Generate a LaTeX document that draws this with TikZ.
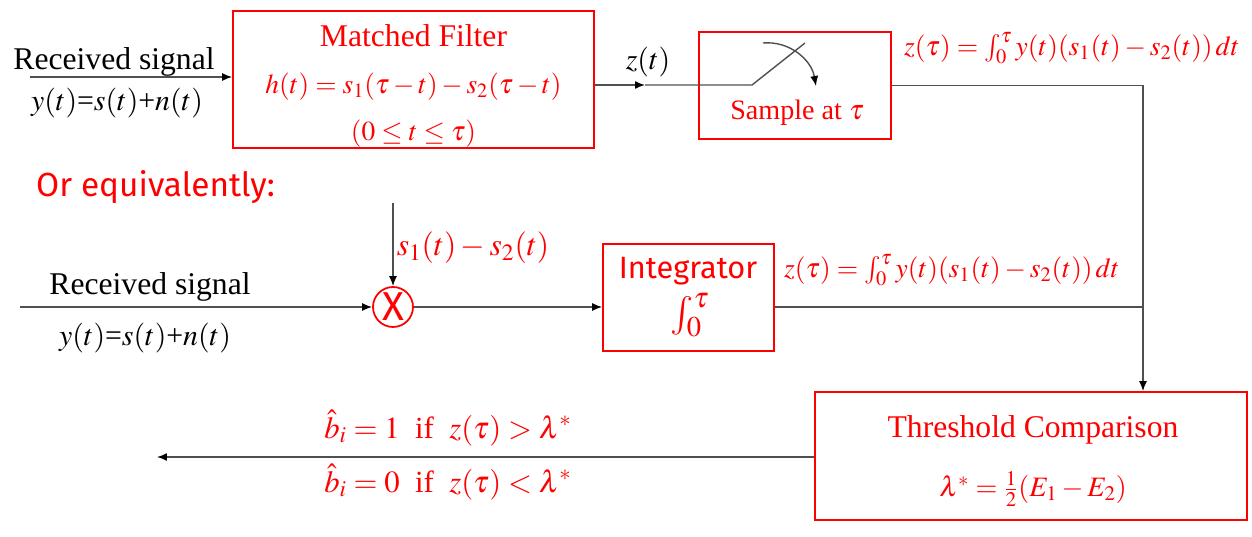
\documentclass[tikz,border=0pt]{standalone}
\usepackage{mathptmx}
\usepackage{fontspec}
\setmainfont{Liberation Serif}
\newfontfamily\comicfont{Fira Sans}
\usetikzlibrary{positioning, arrows.meta}
\definecolor{linegray}{RGB}{80,80,80}
\newcommand{\fsz}[1]{\fontsize{#1}{1.2\dimexpr #1pt\relax}\selectfont}

\begin{document}
\begin{tikzpicture}[x=0.02cm, y=-0.02cm,
    font=\fsz{18},
    myblock/.style={draw=red, line width=1pt, inner sep=0pt},
    mymult/.style={circle, draw=red, line width=1pt, text=red, minimum size=0.8cm, inner sep=0pt, font=\comicfont\fsz{23}},
    myline/.style={linegray, line width=0.8pt},
    myarrow/.style={-{Latex[length=2mm, width=1.6mm, black]}, linegray, line width=0.8pt},
    mylabel/.style={text=red, align=center},
    myformula/.style={text=red, font=\fsz{15.7}}
]
    \useasboundingbox (0,0) rectangle (1252,537);

    % Matched filter path
    \node[myblock, minimum width=7.22cm, minimum height=2.74cm] (mf) at (413.5,79.5) {};
    \node[mylabel] (mft) at (413.5,86)
        {Matched Filter\\[5pt] {\fsz{15.6}$h(t)=s_1(\tau-t)-s_2(\tau-t)$}\\[5pt] {\fsz{15.6}$(0\le t\le\tau)$}};
    \node (rs1) at (114,62) {Received signal};
    \node[font=\fsz{17}] (ys1) at (117,103) {$y(t)$=$s(t)$+$n(t)$};
    \coordinate (in1) at (30,77);
    \draw[myarrow] (in1) -- (in1 -| mf.west);

    % Sampler
    \node[myblock, minimum width=3.84cm, minimum height=2.14cm] (sp) at (795,85.5) {};
    \node[mylabel, font=\fsz{16}] (spl) at (797,113) {Sample at $\tau$};
    \coordinate (zt) at (645,85);
    \coordinate (sw0) at (752,85);
    \coordinate (sw1) at (805,43);
    \coordinate (ca) at (763,43);
    \coordinate (cb) at (816,86);
    \draw[myarrow] (mf.east |- zt) -- (zt);
    \draw[myline] (zt) -- (sw0) -- (sw1);
    \draw[myarrow] (ca) to[out=5, in=100] (cb);
    \node[font=\fsz{17}] (zl) at (648,62) {$z(t)$};
    \node[myformula] (zf1) at (1072,48) {$z(\tau)=\int_0^\tau y(t)(s_1(t)-s_2(t))\,dt$};

    % Or equivalently: correlator path
    \node[mylabel, font=\comicfont\fsz{19}, anchor=west] (oe) at (30,187) {Or equivalently:};
    \node[mymult] (mult) at (393,307) {X};
    \coordinate (mtop) at (393,203);
    \draw[myarrow] (mtop) -- (mult.north);
    \node[mylabel] (sl) at (473,248) {$s_1(t)-s_2(t)$};
    \coordinate (in2) at (20,307);
    \draw[myarrow] (in2) -- (mult.west);
    \node (rs2) at (150,287) {Received signal};
    \node[font=\fsz{17}] (ys2) at (145,338) {$y(t)$=$s(t)$+$n(t)$};

    \node[myblock, minimum width=3.42cm, minimum height=2.14cm] (int) at (688.5,297.5) {};
    \node[mylabel, inner sep=0pt, font=\comicfont\fsz{17.5}] (intt) at (688,271) {Integrator};
    \node[mylabel, inner sep=0pt, font=\fsz{22}] (intg) at (690,315) {$\int_0^\tau$};
    \draw[myarrow] (mult.east) -- (mult.east -| int.west);
    \node[myformula] (zf2) at (952,270) {$z(\tau)=\int_0^\tau y(t)(s_1(t)-s_2(t))\,dt$};

    % Threshold comparison
    \node[myblock, minimum width=8.64cm, minimum height=2.56cm] (th) at (1031,456) {};
    \node[mylabel] (tht) at (1033,461)
        {Threshold Comparison\\[12pt] {\fsz{16}$\lambda^*=\frac{1}{2}(E_1-E_2)$}};
    \coordinate (jn) at (1143,307);
    \draw[myline] (int.east |- jn) -- (jn);
    \draw[myarrow] (sp.east) -| (jn |- th.north);
    \coordinate (out) at (157,457);
    \draw[myarrow] (th.west |- out) -- (out);
    \node[mylabel, font=\fsz{17.5}] (b1) at (448,428) {$\hat{b}_i=1$\ \ if\ \ $z(\tau)>\lambda^*$};
    \node[mylabel, font=\fsz{17.5}] (b0) at (448,482) {$\hat{b}_i=0$\ \ if\ \ $z(\tau)<\lambda^*$};
\end{tikzpicture}
\end{document}
